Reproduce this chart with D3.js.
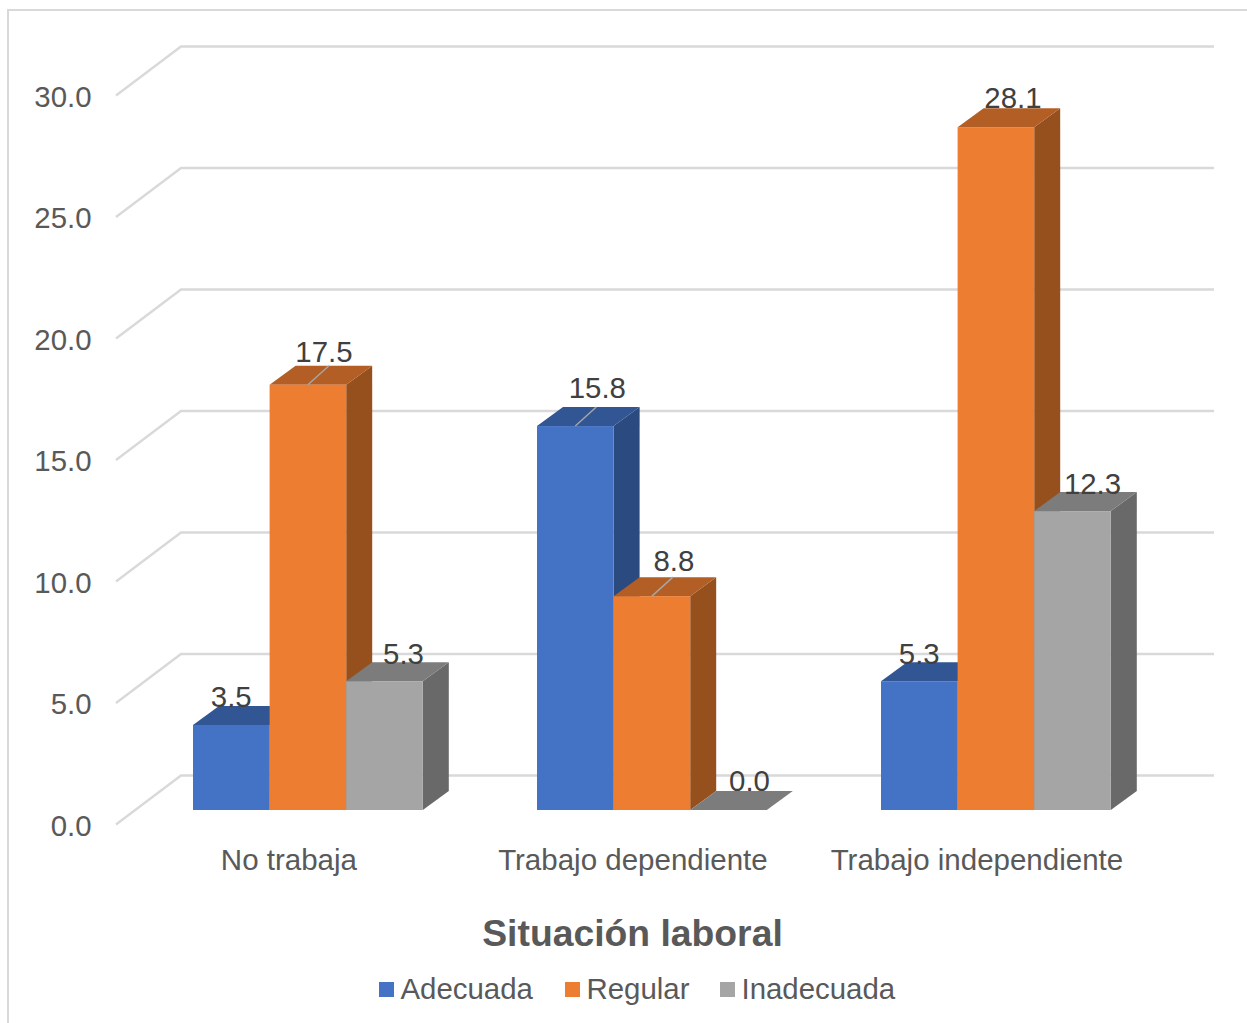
<!DOCTYPE html>
<html><head><meta charset="utf-8">
<script src="https://cdn.jsdelivr.net/npm/d3@7"></script>
<style>html,body{margin:0;padding:0;background:#fff}svg{display:block}text{font-family:"Liberation Sans",Arial,sans-serif}</style>
</head><body><svg id="c" width="1247" height="1023"></svg>
<script>
const categories = ["No trabaja","Trabajo dependiente","Trabajo independiente"];
const seriesNames = ["Adecuada","Regular","Inadecuada"];
const adecuada = [3.5,15.8,5.3];
const regular = [17.5,8.8,28.1];
const inadecuada = [5.3,0.0,12.3];
const yTicks = [0,5,10,15,20,25,30];
const leaderFlags = [[false,true,false],[true,true,false],[false,false,false]];
const faceColors = ["#4472c4","#ed7d31","#a5a5a5"];
const topColors = ["#325594","#b25e25","#7c7c7c"];
const sideColors = ["#2a4a80","#96501e","#696969"];
const values = [adecuada,regular,inadecuada];
// label nudges, [category][series] -> [dx, dy] from the bar's top-front centre
const labelNudge = [
  [[0,-18],[16,-23],[19,-17]],
  [[22,-28],[22,-25],[21,-19]],
  [[0,-17],[17,-19],[20,-17]]
];

const svg = d3.select("#c");
const dx = 26, dy = 19;
const baseY = 810, frontGridX = 116, backGridX = 181, rightX = 1214;
const y = d3.scaleLinear().domain([0,30]).range([baseY, baseY-729]);
const gridDy = 49;
const x0 = d3.scaleBand().domain(categories).range([135.9,1167.9]);
const innerW = 76.6;
const x1 = d3.scaleBand().domain(seriesNames).range([0,innerW*3]);
const groupX = c => x0(c) + (x0.bandwidth()-innerW*3)/2;

// frame
svg.append("path").attr("d","M8,1023V10H1247").attr("fill","none").attr("stroke","#d9d9d9").attr("stroke-width",2);

// gridlines
const grid = svg.append("g").attr("fill","none").attr("stroke","#d9d9d9").attr("stroke-width",2.4);
yTicks.forEach(t=>{
  const yy = y(t)+14.5;
  grid.append("path").attr("d",`M${frontGridX},${yy}L${backGridX},${yy-gridDy}H${rightX}`);
});
// y labels
svg.append("g").selectAll("text").data(yTicks).join("text")
  .attr("x",91.5).attr("y",t=>y(t)+14+11.5).attr("text-anchor","end")
  .attr("font-size",29.4).attr("fill","#595959").text(t=>t.toFixed(1));

const bars = svg.append("g");
const labels = svg.append("g");
categories.forEach((c,i)=>{
  seriesNames.forEach((s,j)=>{
    const v = values[j][i];
    const xl = groupX(c)+x1(s), w = x1.bandwidth(), yt = y(v);
    const g = bars.append("g");
    g.append("path").attr("fill",sideColors[j])
      .attr("d",`M${xl+w},${yt}L${xl+w+dx},${yt-dy}V${baseY-dy}L${xl+w},${baseY}Z`);
    g.append("path").attr("fill",topColors[j])
      .attr("d",`M${xl},${yt}L${xl+dx},${yt-dy}H${xl+w+dx}L${xl+w},${yt}Z`);
    g.append("rect").attr("x",xl).attr("y",yt).attr("width",w).attr("height",baseY-yt).attr("fill",faceColors[j]);
    if(leaderFlags[i][j]){
      labels.append("line").attr("x1",xl+w/2).attr("y1",yt).attr("x2",xl+w/2+21).attr("y2",yt-19)
        .attr("stroke","#a6a6a6").attr("stroke-width",1.5);
    }
    const [nx,ny] = labelNudge[i][j];
    labels.append("text").attr("x",xl+w/2+nx).attr("y",yt+ny).attr("text-anchor","middle")
      .attr("font-size",29.4).attr("fill","#404040").text(v.toFixed(1));
  });
});

// category labels
svg.append("g").selectAll("text").data(categories).join("text")
  .attr("x",c=>groupX(c)+innerW*1.5-19).attr("y",870).attr("text-anchor","middle")
  .attr("font-size",29.5).attr("fill","#595959").text(c=>c);

// axis title
svg.append("text").attr("x",632.5).attr("y",946).attr("text-anchor","middle")
  .attr("font-size",37.3).attr("font-weight","bold").attr("fill","#595959").text("Situación laboral");

// legend
const legendX = [379,565,720];
const lg = svg.append("g").selectAll("g").data(seriesNames).join("g").attr("transform",(d,i)=>`translate(${legendX[i]},0)`);
lg.append("rect").attr("x",0).attr("y",982).attr("width",15).attr("height",15).attr("fill",(d,i)=>faceColors[i]);
lg.append("text").attr("x",21.5).attr("y",999).attr("font-size",29.4).attr("fill","#595959").text(d=>d);
</script></body></html>
